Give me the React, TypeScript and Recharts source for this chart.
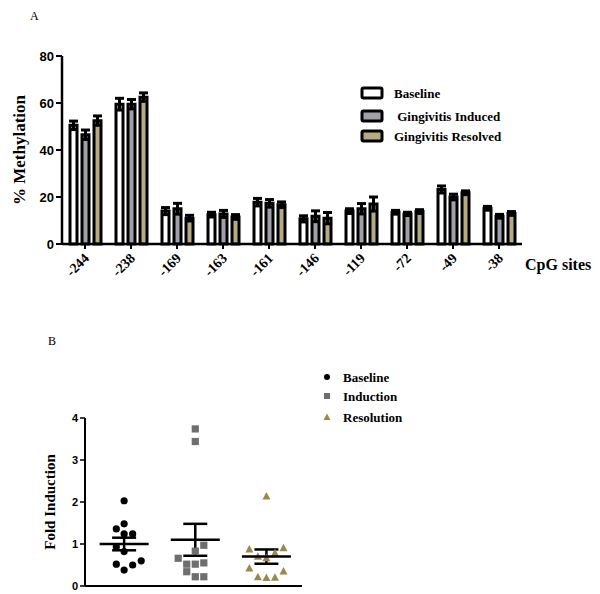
import React from 'react';
import {
  BarChart,
  Bar,
  XAxis,
  YAxis,
  ErrorBar,
  Legend,
  ScatterChart,
  Scatter,
} from 'recharts';

// ---------- Panel A data ----------
const sites = ['-244', '-238', '-169', '-163', '-161', '-146', '-119', '-72', '-49', '-38'];
const baseline = [50.5, 59.5, 14, 12.5, 17.8, 10.7, 14, 13.5, 23.2, 15.2];
const baselineErr = [1.8, 2.5, 1.5, 1, 1.6, 1.3, 1, 0.8, 1.5, 0.8];
const induced = [46.5, 59.5, 15, 12.8, 17.3, 11.8, 15, 12.8, 20, 11.8];
const inducedErr = [2, 2, 2.3, 1.5, 1.6, 2.3, 2.2, 0.7, 1.2, 0.8];
const resolved = [52.5, 62.5, 11, 11.5, 16.7, 11, 17, 13.8, 21.8, 13];
const resolvedErr = [2, 1.8, 1.2, 1, 1.2, 2.4, 3, 0.8, 0.8, 0.8];
const methylTicks = [0, 20, 40, 60, 80];
const legendALabels = ['Baseline', ' Gingivitis Induced', 'Gingivitis Resolved'];

// ---------- Panel B data ----------
const groups = ['Baseline', 'Induction', 'Resolution'];
const baselineFold = [2.03, 1.48, 1.36, 1.24, 1.24, 0.93, 0.82, 0.52, 0.38, 0.5, 0.6];
const baselineJitter = [0, 0, -0.11, 0, 0.12, -0.11, 0, -0.11, 0, 0.12, 0.24];
const inductionFold = [3.74, 3.44, 0.97, 0.83, 0.66, 0.52, 0.52, 0.55, 0.34, 0.22, 0.22];
const inductionJitter = [0, 0, 0.12, 0, -0.24, -0.12, 0, 0.12, -0.12, 0, 0.12];
const resolutionFold = [2.14, 0.88, 0.91, 0.71, 0.79, 0.67, 0.43, 0.36, 0.22, 0.2, 0.21];
const resolutionJitter = [0, -0.24, 0.24, -0.12, 0.12, 0, -0.24, 0.24, -0.12, 0, 0.12];
const groupMeans = [1.0, 1.1, 0.7];
const groupSem = [0.15, 0.38, 0.17];
const foldTicks = [0, 1, 2, 3, 4];

// ---------- styles ----------
const serif = '"Liberation Serif", "Times New Roman", serif';
const sans = '"Liberation Sans", Arial, sans-serif';
const GRAY = '#a0a0a8';
const TAN = '#b5aa80';
const SQUARE = '#6e6e6e';
const TRI = '#9a8a4a';

const barData = sites.map((s, i) => ({
  site: s,
  baseline: baseline[i],
  baselineErr: baselineErr[i],
  induced: induced[i],
  inducedErr: inducedErr[i],
  resolved: resolved[i],
  resolvedErr: resolvedErr[i],
}));

const mkPts = (vals: number[], jit: number[], g: number) =>
  vals.map((v, i) => ({ x: g + 0.5 + jit[i], y: v }));
const basePts = mkPts(baselineFold, baselineJitter, 0);
const indPts = mkPts(inductionFold, inductionJitter, 1);
const resPts = mkPts(resolutionFold, resolutionJitter, 2);
const meanPts = groupMeans.map((m, i) => ({ x: i + 0.5, y: m, err: groupSem[i], name: groups[i] }));

const SiteTick = (props: any) => {
  const { x, y, payload } = props;
  const ax = x + 5;
  const ay = y + 8;
  return (
    <text
      x={ax}
      y={ay}
      textAnchor="end"
      transform={`rotate(-45 ${ax} ${ay})`}
      fontFamily={serif}
      fontWeight="bold"
      fontSize={14}
      fill="#000"
    >
      {payload.value}
    </text>
  );
};

const legendAFills = ['#ffffff', GRAY, TAN];
const legendARows = [9, 32, 52];
const LegendA = () => (
  <svg width={220} height={62} style={{ overflow: 'visible', display: 'block' }}>
    {legendALabels.map((lab, i) => (
      <g key={i}>
        <rect x={2} y={legendARows[i] - 5} width={20} height={10} fill={legendAFills[i]} stroke="#000" strokeWidth={3} rx={1.5} />
        <text
          x={34}
          y={legendARows[i] + 4.5}
          fontFamily={serif}
          fontWeight="bold"
          fontSize={13}
          fill="#000"
          style={{ whiteSpace: 'pre' }}
        >
          {lab}
        </text>
      </g>
    ))}
  </svg>
);

const legendBRows = [8, 27, 48];
const LegendB = () => (
  <svg width={120} height={56} style={{ overflow: 'visible', display: 'block' }}>
    <circle cx={5} cy={legendBRows[0]} r={3} fill="#000" />
    <rect x={2} y={legendBRows[1] - 3} width={6} height={6} fill={SQUARE} />
    <polygon
      points={`5,${legendBRows[2] - 3.5} 8.5,${legendBRows[2] + 3} 1.5,${legendBRows[2] + 3}`}
      fill={TRI}
    />
    {groups.map((g, i) => (
      <text key={g} x={21} y={legendBRows[i] + 4.5} fontFamily={serif} fontWeight="bold" fontSize={13} fill="#000">
        {g}
      </text>
    ))}
  </svg>
);

const Dot = (p: any) => <circle cx={p.cx} cy={p.cy} r={3.6} fill="#000" />;
const Sq = (p: any) => <rect x={p.cx - 3.6} y={p.cy - 3.6} width={7.2} height={7.2} fill={SQUARE} />;
const Tri = (p: any) => (
  <polygon points={`${p.cx},${p.cy - 4} ${p.cx + 4},${p.cy + 3.5} ${p.cx - 4},${p.cy + 3.5}`} fill={TRI} />
);
const MeanLine = (p: any) => (
  <line x1={p.cx - 24.5} x2={p.cx + 24.5} y1={p.cy} y2={p.cy} stroke="#000" strokeWidth={2.5} />
);

export default function App() {
  return (
    <div style={{ position: 'absolute', left: 0, top: 0, width: 600, height: 594, background: '#fff' }}>
      <div style={{ position: 'absolute', left: 0, top: 0 }}>
        <BarChart
          width={600}
          height={300}
          data={barData}
          margin={{ top: 56, right: 78, bottom: 6, left: 22 }}
          barSize={7}
          barGap={5}
        >
          <text x={30} y={20} fontFamily={serif} fontSize={12} fill="#000">A</text>
          <text x={525} y={270} fontFamily={serif} fontWeight="bold" fontSize={16} fill="#000">CpG sites</text>
          <text
            x={0}
            y={0}
            transform="translate(25 150) rotate(-90)"
            textAnchor="middle"
            fontFamily={serif}
            fontWeight="bold"
            fontSize={17}
            fill="#000"
          >
            % Methylation
          </text>
          <XAxis
            dataKey="site"
            height={50}
            interval={0}
            tick={<SiteTick />}
            tickSize={5}
            axisLine={{ stroke: '#000', strokeWidth: 2.5 }}
            tickLine={{ stroke: '#000', strokeWidth: 2 }}
          />
          <YAxis
            domain={[0, 80]}
            ticks={methylTicks}
            width={40}
            tickSize={6}
            tickMargin={2}
            axisLine={{ stroke: '#000', strokeWidth: 2.5 }}
            tickLine={{ stroke: '#000', strokeWidth: 2 }}
            tick={{ fontFamily: sans, fontWeight: 'bold', fontSize: 13, fill: '#000' }}
          />
          <Legend
            layout="horizontal"
            verticalAlign="middle"
            align="center"
            content={<LegendA />}
            wrapperStyle={{ left: 360, top: 84, width: 220, height: 62 }}
          />
          <Bar dataKey="baseline" fill="#ffffff" stroke="#000" strokeWidth={3} isAnimationActive={false}>
            <ErrorBar dataKey="baselineErr" width={4.5} stroke="#000" strokeWidth={3} />
          </Bar>
          <Bar dataKey="induced" fill={GRAY} stroke="#000" strokeWidth={3} isAnimationActive={false}>
            <ErrorBar dataKey="inducedErr" width={4.5} stroke="#000" strokeWidth={3} />
          </Bar>
          <Bar dataKey="resolved" fill={TAN} stroke="#000" strokeWidth={3} isAnimationActive={false}>
            <ErrorBar dataKey="resolvedErr" width={4.5} stroke="#000" strokeWidth={3} />
          </Bar>
        </BarChart>
      </div>
      <div style={{ position: 'absolute', left: 0, top: 300 }}>
        <ScatterChart width={600} height={294} margin={{ top: 118, right: 298, bottom: 6, left: 55 }}>
          <text x={48} y={45} fontFamily={serif} fontSize={12} fill="#000">B</text>
          <text
            x={0}
            y={0}
            transform="translate(55 202) rotate(-90)"
            textAnchor="middle"
            fontFamily={serif}
            fontWeight="bold"
            fontSize={15}
            fill="#000"
          >
            Fold Induction
          </text>
          <XAxis
            type="number"
            dataKey="x"
            domain={[-0.05, 3]}
            height={2}
            tick={false}
            tickLine={false}
            axisLine={{ stroke: '#000', strokeWidth: 2 }}
          />
          <YAxis
            type="number"
            dataKey="y"
            domain={[0, 4]}
            ticks={foldTicks}
            width={30}
            tickSize={5}
            tickMargin={2}
            axisLine={{ stroke: '#000', strokeWidth: 2 }}
            tickLine={{ stroke: '#000', strokeWidth: 1.5 }}
            tick={{ fontFamily: sans, fontWeight: 'bold', fontSize: 11, fill: '#000' }}
          />
          <Legend
            layout="horizontal"
            verticalAlign="middle"
            align="center"
            content={<LegendB />}
            wrapperStyle={{ left: 322, top: 69, width: 120, height: 56 }}
          />
          <Scatter data={basePts} shape={Dot} isAnimationActive={false} />
          <Scatter data={indPts} shape={Sq} isAnimationActive={false} />
          <Scatter data={resPts} shape={Tri} isAnimationActive={false} />
          <Scatter data={meanPts} shape={MeanLine} isAnimationActive={false}>
            <ErrorBar dataKey="err" direction="y" width={12} stroke="#000" strokeWidth={2.5} />
          </Scatter>
        </ScatterChart>
      </div>
    </div>
  );
}
